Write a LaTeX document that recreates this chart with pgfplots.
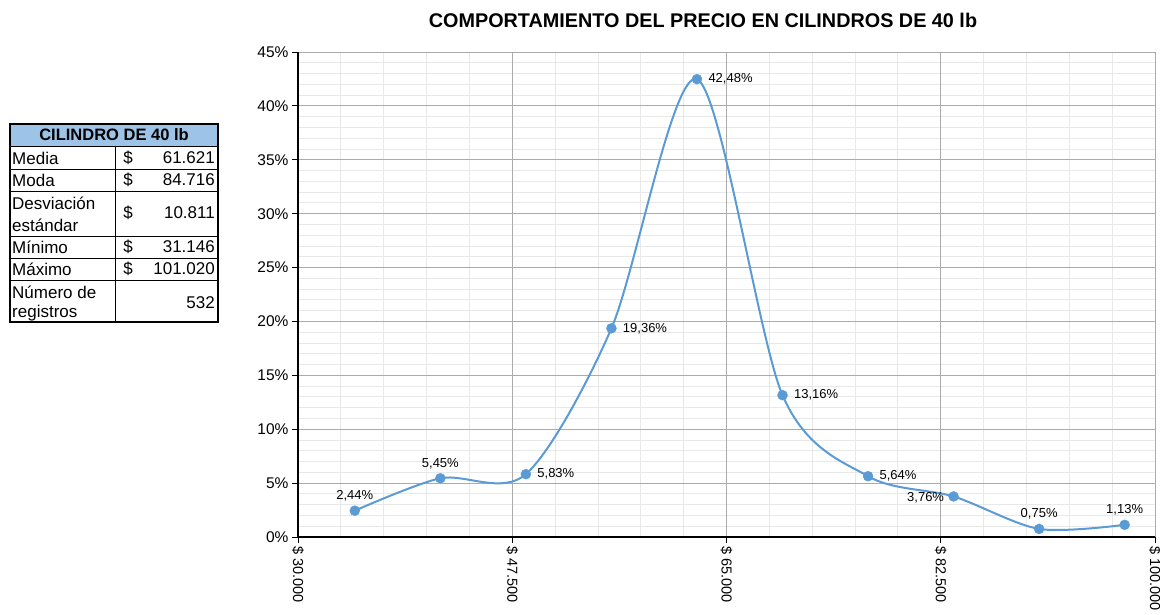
\documentclass[border=0pt]{standalone}
\usepackage{pgfplots}
\pgfplotsset{compat=1.18}
\usepackage{fontspec}
\setmainfont{Liberation Sans}
\definecolor{lineblue}{HTML}{5B9BD5}
\definecolor{hdrblue}{HTML}{9DC3E6}
\definecolor{majgrid}{HTML}{ABABAB}
\definecolor{mingrid}{HTML}{E8E8E8}
\newcommand{\tf}{\fontsize{17}{19}\selectfont}
\newcommand{\lf}{\fontsize{13}{15}\selectfont}
\pgfplotstableread{
x y
34640 2.44
41627 5.45
48614 5.83
55601 19.36
62588 42.48
69575 13.16
76562 5.64
83549 3.76
90536 0.75
97523 1.13
}\datatable
\pgfplotstableread{
x y
34640 2.44
41627 5.45
90536 0.75
97523 1.13
}\above
\pgfplotstableread{
x y
48614 5.83
55601 19.36
62588 42.48
69575 13.16
76562 5.64
}\right
\pgfplotstableread{
x y
83549 3.76
}\leftt
\pgfplotsset{common/.style={at={(298pt,77pt)}, anchor=south west, scale only axis,
  width=857pt, height=485pt,
  xmin=30000, xmax=100000, ymin=0, ymax=45,
  xtick={30000,47500,65000,82500,100000},
  ytick={0,5,...,45}, scaled ticks=false,
  minor x tick num=4, minor y tick num=4}}
\begin{document}
\begin{tikzpicture}[x=1pt,y=1pt]
\useasboundingbox (0,0) rectangle (1160,614);
% title
\node[font=\fontsize{19.8}{22}\selectfont\bfseries] at (703,594) {COMPORTAMIENTO DEL PRECIO EN CILINDROS DE 40 lb};
% table
\fill[hdrblue] (10,468) rectangle (218,490);
\foreach \yy in {468,445,423,378,356,334} {\draw[line width=0.8pt] (10,\yy) -- (218,\yy);}
\draw[line width=0.8pt] (115,468) -- (115,292);
\draw[line width=1.6pt] (10,292) rectangle (218,490);
\node[font=\fontsize{16.5}{18}\selectfont\bfseries] at (114,479) {CILINDRO DE 40 lb};
\node[font=\tf,anchor=west,inner sep=0] at (12,456) {Media};
\node[font=\tf,anchor=west,inner sep=0] at (12,434) {Moda};
\node[font=\tf,anchor=west,inner sep=0] at (12,411) {Desviación};
\node[font=\tf,anchor=west,inner sep=0] at (12,389) {estándar};
\node[font=\tf,anchor=west,inner sep=0] at (12,367) {Mínimo};
\node[font=\tf,anchor=west,inner sep=0] at (12,345) {Máximo};
\node[font=\tf,anchor=west,inner sep=0] at (12,322) {Número de};
\node[font=\tf,anchor=west,inner sep=0] at (12,301) {registros};
\foreach \yy/\vv in {456/61.621,434/84.716,401/10.811,367/31.146,345/101.020} {
  \node[font=\tf,inner sep=0] at (128,\yy) {\$};
  \node[font=\tf,anchor=east,inner sep=0] at (215,\yy) {\vv};
}
\node[font=\tf,anchor=east,inner sep=0] at (215,311) {532};
% minor grid layer
\begin{axis}[common, grid=minor,
  minor grid style={mingrid, line width=0.9pt},
  xticklabels={}, yticklabels={},
  axis line style={draw=none},
  major tick length=0pt, minor tick length=0pt, tick style={draw=none}]
\end{axis}
\begin{axis}[common,
  xticklabels={\$~30.000,\$~47.500,\$~65.000,\$~82.500,\$~100.000},
  yticklabels={0\%,5\%,10\%,15\%,20\%,25\%,30\%,35\%,40\%,45\%},
  grid=major,
  major grid style={majgrid, line width=0.9pt},
  axis x line*=bottom, axis y line*=left,
  axis line style={black, line width=1.1pt, -},
  tick align=outside, major tick length=6pt, minor tick length=0pt,
  tick style={black, line width=0.9pt},
  xticklabel style={rotate=-90, anchor=west, font=\fontsize{14.5}{16}\selectfont},
  yticklabel style={font=\fontsize{15.5}{17}\selectfont},
  clip=false,
]
\addplot[lineblue, line width=2pt, smooth, no marks] table {\datatable};
\addplot[only marks, mark=*, mark size=5pt, lineblue,
  nodes near coords={\pgfmathprintnumber[assume math mode=true,fixed,fixed zerofill,precision=2,use comma]{\pgfplotspointmeta}\%},
  point meta=y,
  nodes near coords style={text=black, font=\lf, anchor=south, yshift=6pt}] table {\above};
\addplot[only marks, mark=*, mark size=5pt, lineblue,
  nodes near coords={\pgfmathprintnumber[assume math mode=true,fixed,fixed zerofill,precision=2,use comma]{\pgfplotspointmeta}\%},
  point meta=y,
  nodes near coords style={text=black, font=\lf, anchor=west, xshift=8pt}] table {\right};
\addplot[only marks, mark=*, mark size=5pt, lineblue,
  nodes near coords={\pgfmathprintnumber[assume math mode=true,fixed,fixed zerofill,precision=2,use comma]{\pgfplotspointmeta}\%},
  point meta=y,
  nodes near coords style={text=black, font=\lf, anchor=east, xshift=-6pt, yshift=-1pt}] table {\leftt};
\end{axis}
\end{tikzpicture}
\end{document}
